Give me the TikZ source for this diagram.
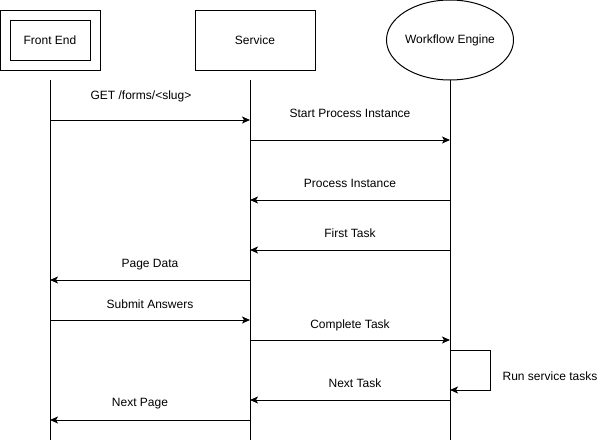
\documentclass[tikz,border=0pt]{standalone}
\usepackage{fontspec}
\setmainfont{Liberation Sans}
\usetikzlibrary{arrows.meta,shapes.geometric}
\tikzset{
    actor/.style={draw, line width=1pt, minimum width=120pt, minimum height=60pt, inner sep=0pt},
    lifeline/.style={line width=1pt},
    msg/.style={line width=1pt, -{Stealth[length=8pt,width=7pt,inset=2pt]}},
    lbl/.style={inner sep=0pt, yshift=-1.5pt, font=\fontsize{12}{14}\selectfont},
}
\begin{document}
\begin{tikzpicture}[x=1pt, y=-1pt, font=\fontsize{12}{14}\selectfont]
    \useasboundingbox (0,0) rectangle (611,442);
    % participants
    \node[actor, minimum width=100pt] (feouter) at (50,40) {};
    \node[actor, minimum width=80pt, minimum height=40pt] (fe) at (50,40) {Front End};
    \node[actor] (svc) at (255,40) {Service};
    \node[draw, line width=1pt, ellipse, minimum width=120pt, minimum height=80pt, inner sep=0pt] (wfe) at (450,40) {Workflow Engine};
    % lifelines
    \coordinate (feTop) at (50,80);   \coordinate (feBot) at (50,440);
    \coordinate (svcTop) at (250,80); \coordinate (svcBot) at (250,440);
    \coordinate (wfeTop) at (450,80); \coordinate (wfeBot) at (450,440);
    \draw[lifeline] (feTop) -- (feBot);
    \draw[lifeline] (svcTop) -- (svcBot);
    \draw[lifeline] (wfeTop) -- (wfeBot);
    % messages
    \draw[msg] (feTop |- 0,120) -- (svcTop |- 0,120);
    \node[lbl] (getlbl) at (141,95) {GET /forms/<slug>};
    \draw[msg] (svcTop |- 0,140) -- (wfeTop |- 0,140);
    \node[lbl] (startlbl) at (350,112) {Start Process Instance};
    \draw[msg] (wfeTop |- 0,200) -- (svcTop |- 0,200);
    \node[lbl] (proclbl) at (350,182) {Process Instance};
    \draw[msg] (wfeTop |- 0,250) -- (svcTop |- 0,250);
    \node[lbl] (firstlbl) at (350,232) {First Task};
    \draw[msg] (svcTop |- 0,280) -- (feTop |- 0,280);
    \node[lbl] (pagelbl) at (150,263) {Page Data};
    \draw[msg] (feTop |- 0,320) -- (svcTop |- 0,320);
    \node[lbl] (submitlbl) at (150,303) {Submit Answers};
    \draw[msg] (svcTop |- 0,340) -- (wfeTop |- 0,340);
    \node[lbl] (completelbl) at (350,324) {Complete Task};
    % self call
    \coordinate (loopTop) at (490,350);
    \coordinate (loopBot) at (490,390);
    \draw[msg] (wfeTop |- loopTop) -- (loopTop) -- (loopBot) -- (wfeTop |- loopBot);
    \node[lbl] (runlbl) at (550,375) {Run service tasks};
    \draw[msg] (wfeTop |- 0,400) -- (svcTop |- 0,400);
    \node[lbl] (nexttasklbl) at (355,382) {Next Task};
    \draw[msg] (svcTop |- 0,420) -- (feTop |- 0,420);
    \node[lbl] (nextpagelbl) at (140,402) {Next Page};
\end{tikzpicture}
\end{document}
